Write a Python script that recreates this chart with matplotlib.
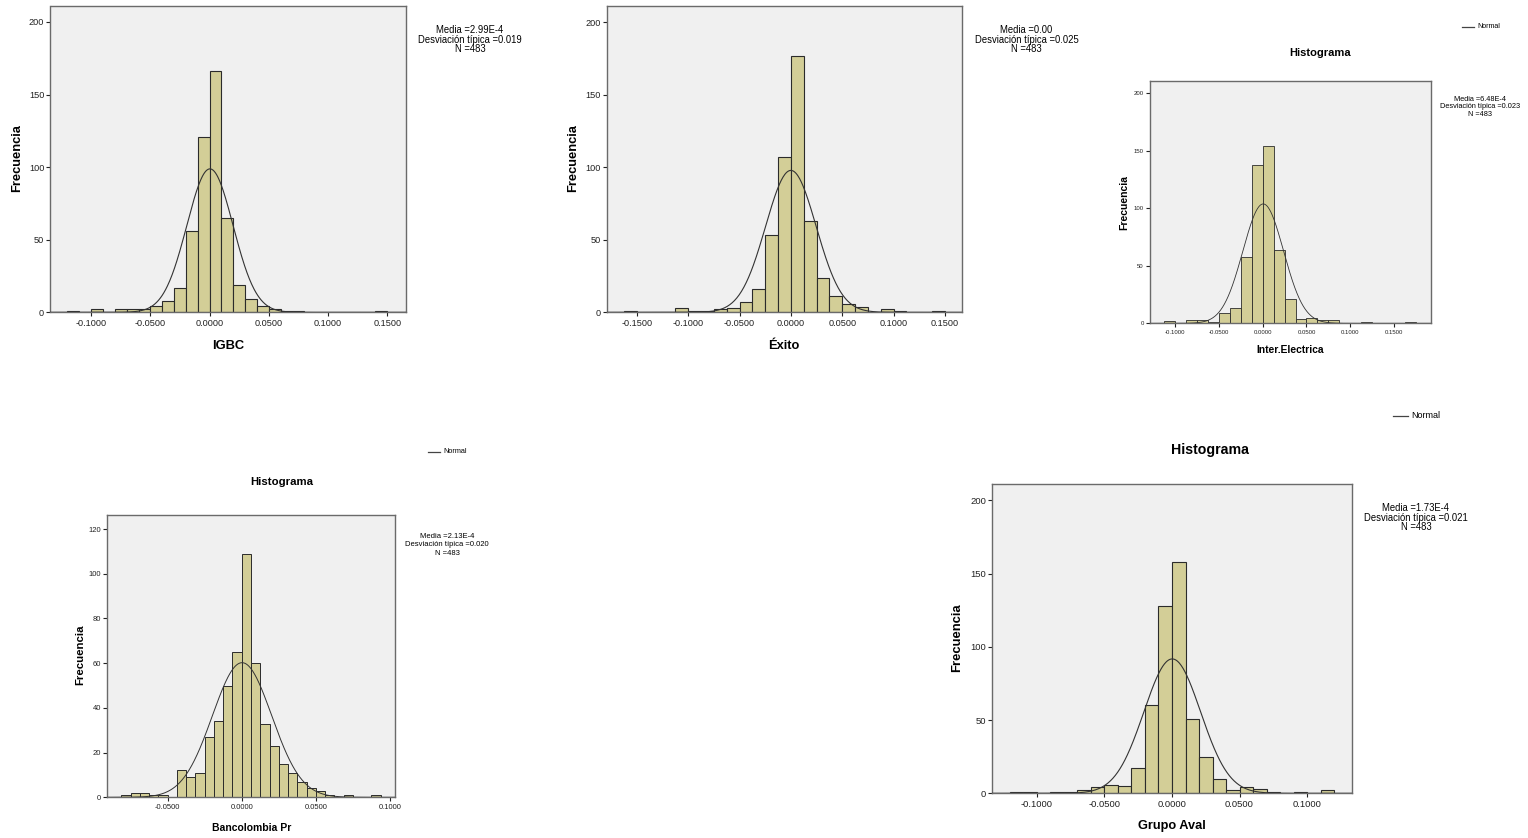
import numpy as np
import matplotlib
matplotlib.use("Agg")
import matplotlib.pyplot as plt
from matplotlib.lines import Line2D

plt.rcParams['font.family'] = ['Liberation Sans', 'DejaVu Sans']

W, H = 1528, 838

# ===================== datos =====================
# IGBC: ancho de intervalo 0.01, primer borde -0.12
igbc_bw, igbc_start = 0.01, -0.12
igbc_counts = [1, 0, 2, 0, 2, 2, 2, 4, 8, 17, 56, 121, 166, 65, 19, 9, 4, 2, 1, 1,
               0, 0, 0, 0, 0, 0, 1]
igbc_stats = ["Media =2.99E-4", "Desviación típica =0.019", "N =483"]
igbc_mean, igbc_sd = 0.000299, 0.0195

# Éxito: ancho 0.0125, primer borde -0.1625
exito_bw, exito_start = 0.0125, -0.1625
exito_counts = [1, 0, 0, 0, 3, 1, 1, 2, 3, 7, 16, 53, 107, 177, 63, 24, 11, 6, 4, 0,
                2, 1, 0, 0, 1]
exito_stats = ["Media =0.00", "Desviación típica =0.025", "N =483"]
exito_mean, exito_sd = 0.0, 0.0246

# Inter.Electrica: ancho 0.0125, primer borde -0.1125
inter_bw, inter_start = 0.0125, -0.1125
inter_counts = [2, 0, 3, 3, 1, 9, 13, 58, 138, 154, 64, 21, 4, 5, 3, 3, 0, 0, 1, 0,
                0, 0, 1]
inter_stats = ["Media =6.48E-4", "Desviación típica =0.023", "N =483"]
inter_mean, inter_sd = 0.000648, 0.0232

# Bancolombia Pr: ancho 0.00625, primer borde -0.08125
banco_bw, banco_start = 0.00625, -0.08125
banco_counts = [1, 2, 2, 1, 1, 0, 12, 9, 11, 27, 34, 50, 65, 109, 60, 33, 23, 15, 11,
                7, 4, 3, 1, 0, 1, 0, 0, 1]
banco_stats = ["Media =2.13E-4", "Desviación típica =0.020", "N =483"]
banco_mean, banco_sd = 0.000213, 0.020

# Grupo Aval: ancho 0.01, primer borde -0.12
aval_bw, aval_start = 0.01, -0.12
aval_counts = [1, 1, 0, 1, 1, 2, 4, 6, 5, 17, 60, 128, 158, 51, 25, 10, 2, 4, 3, 1,
               0, 1, 0, 2]
aval_stats = ["Media =1.73E-4", "Desviación típica =0.021", "N =483"]
aval_mean, aval_sd = 0.000173, 0.021

N = 483
BAR_COLOR = '#D3CE97'
BG_COLOR = '#F0F0F0'

fig = plt.figure(figsize=(W / 100, H / 100), dpi=100)


def fx(x):
    return x / W


def fy(y):
    return 1 - y / H


def histo(box, bw, start, counts, mean, sd, xlim, ylim, xticks, yticks,
          tick_fs, lw=0.8):
    x0, y0, x1, y1 = box
    ax = fig.add_axes([fx(x0), fy(y1), (x1 - x0) / W, (y1 - y0) / H])
    ax.set_facecolor(BG_COLOR)
    counts = np.array(counts)
    lefts = start + bw * np.arange(len(counts))
    keep = counts > 0
    ax.bar(lefts[keep], counts[keep], width=bw, align='edge',
           color=BAR_COLOR, edgecolor='#2b2b2b', linewidth=lw, zorder=2)
    # curva normal
    xs = np.linspace(xlim[0], xlim[1], 600)
    ys = N * bw / (sd * np.sqrt(2 * np.pi)) * np.exp(-0.5 * ((xs - mean) / sd) ** 2)
    ax.plot(xs, ys, color='#333333', linewidth=lw, zorder=3)
    ax.set_xlim(*xlim)
    ax.set_ylim(*ylim)
    ax.set_xticks(xticks)
    ax.set_xticklabels([f"{t:.4f}" for t in xticks])
    ax.set_yticks(yticks)
    ax.set_yticklabels([str(t) for t in yticks])
    ax.tick_params(direction='out', length=3, width=0.8, labelsize=tick_fs,
                   pad=1.5, colors='#222222')
    ax.tick_params(top=False, right=False)
    for s in ax.spines.values():
        s.set_color('#6a6a6a')
        s.set_linewidth(1.0)
    return ax


def stats_text(xc, ys, lines, fs):
    for y, t in zip(ys, lines):
        fig.text(fx(xc), fy(y), t, ha='center', va='center', fontsize=fs)


def legend_normal(x0, x1, y, fs):
    fig.add_artist(Line2D([fx(x0), fx(x1)], [fy(y), fy(y)],
                          transform=fig.transFigure, color='#444444', linewidth=0.9))
    fig.text(fx(x1 + 3), fy(y), "Normal", ha='left', va='center', fontsize=fs)


# ===================== IGBC =====================
histo((50.5, 6, 406, 312.3), igbc_bw, igbc_start, igbc_counts, igbc_mean, igbc_sd,
      (-0.1343, 0.1658), (0, 211), [-0.1, -0.05, 0.0, 0.05, 0.1, 0.15],
      [0, 50, 100, 150, 200], 6.6)
fig.text(fx(228), fy(345.5), "IGBC", ha='center', va='center', fontsize=9.3,
         fontweight='bold')
fig.text(fx(17), fy(158), "Frecuencia", ha='center', va='center', fontsize=9.3,
         fontweight='bold', rotation=90)
stats_text(470, [30, 39.7, 48.7], igbc_stats, 6.85)

# ===================== Éxito =====================
histo((607, 6.5, 962, 312.3), exito_bw, exito_start, exito_counts, exito_mean, exito_sd,
      (-0.1791, 0.1667), (0, 211), [-0.15, -0.1, -0.05, 0.0, 0.05, 0.1, 0.15],
      [0, 50, 100, 150, 200], 6.6)
fig.text(fx(784), fy(345.5), "Éxito", ha='center', va='center', fontsize=9.3,
         fontweight='bold')
fig.text(fx(573), fy(158), "Frecuencia", ha='center', va='center', fontsize=9.3,
         fontweight='bold', rotation=90)
stats_text(1026.5, [30, 39.7, 48.7], exito_stats, 6.85)

# ===================== Inter.Electrica =====================
histo((1150, 80.7, 1430.5, 323.3), inter_bw, inter_start, inter_counts, inter_mean,
      inter_sd, (-0.1286, 0.1916), (0, 211), [-0.1, -0.05, 0.0, 0.05, 0.1, 0.15],
      [0, 50, 100, 150, 200], 4.3, lw=0.6)
fig.text(fx(1290), fy(350), "Inter.Electrica", ha='center', va='center', fontsize=7.4,
         fontweight='bold')
fig.text(fx(1124), fy(202), "Frecuencia", ha='center', va='center', fontsize=7.5,
         fontweight='bold', rotation=90)
fig.text(fx(1320), fy(53), "Histograma", ha='center', va='center', fontsize=8.0,
         fontweight='bold')
stats_text(1480.5, [99.3, 106.8, 114], inter_stats, 5.35)
legend_normal(1462, 1474, 27, 5.1)

# ===================== Bancolombia Pr =====================
histo((107.3, 514.7, 395, 797.3), banco_bw, banco_start, banco_counts, banco_mean,
      banco_sd, (-0.0907, 0.1034), (0, 126.4), [-0.05, 0.0, 0.05, 0.1],
      [0, 20, 40, 60, 80, 100, 120], 5.5, lw=0.7)
fig.text(fx(252), fy(827.7), "Bancolombia Pr", ha='center', va='center', fontsize=7.5,
         fontweight='bold')
fig.text(fx(80.7), fy(655), "Frecuencia", ha='center', va='center', fontsize=8.2,
         fontweight='bold', rotation=90)
fig.text(fx(282), fy(482.3), "Histograma", ha='center', va='center', fontsize=8.2,
         fontweight='bold')
stats_text(447, [536, 545, 553.3], banco_stats, 5.5)
legend_normal(428, 440, 451.7, 5.2)

# ===================== Grupo Aval =====================
histo((992.3, 484.3, 1351.7, 793.3), aval_bw, aval_start, aval_counts, aval_mean,
      aval_sd, (-0.1331, 0.1331), (0, 211), [-0.1, -0.05, 0.0, 0.05, 0.1],
      [0, 50, 100, 150, 200], 6.8)
fig.text(fx(1172), fy(826), "Grupo Aval", ha='center', va='center', fontsize=9.2,
         fontweight='bold')
fig.text(fx(957), fy(638), "Frecuencia", ha='center', va='center', fontsize=9.4,
         fontweight='bold', rotation=90)
fig.text(fx(1210), fy(450), "Histograma", ha='center', va='center', fontsize=10.2,
         fontweight='bold')
stats_text(1416, [507.7, 517.7, 526.7], aval_stats, 6.85)
legend_normal(1393, 1408, 415.7, 6.5)

fig.savefig("out.png", dpi=100)
